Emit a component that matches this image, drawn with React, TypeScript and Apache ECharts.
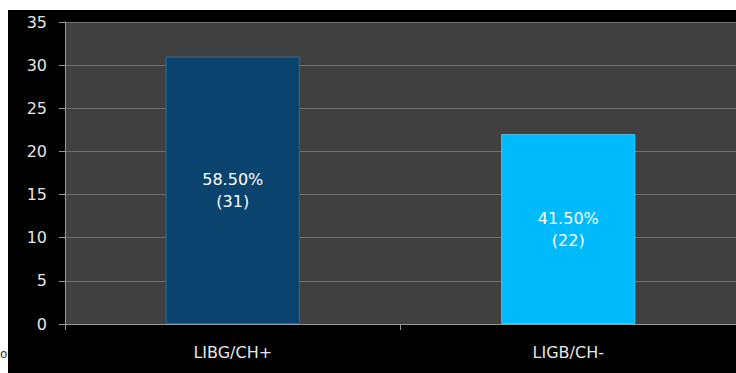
import React, { useEffect, useRef } from "react";
import * as echarts from "echarts";

const categories = ["LIBG/CH+", "LIGB/CH-"];
const counts = [31, 22];
const percents = ["58.50%", "41.50%"];
const barColors = ["#0a446e", "#00bbfc"];

const FONT = "DejaVu Sans";

export default function App() {
  const ref = useRef<HTMLDivElement>(null);
  useEffect(() => {
    const chart = echarts.init(ref.current!, null, { renderer: "svg" });
    chart.setOption({
      animation: false,
      backgroundColor: "#ffffff",
      graphic: [
        { type: "rect", z: -10, shape: { x: 8, y: 10, width: 740, height: 380 }, style: { fill: "#000000" } },
        { type: "text", x: 0, y: 348, style: { text: "o", fill: "#333", font: "12px 'DejaVu Sans'" } },
      ],
      grid: { left: 65, right: -5, top: 22, bottom: 49, backgroundColor: "#404040", show: true, borderWidth: 0 },
      xAxis: {
        type: "category",
        data: categories,
        axisLine: { lineStyle: { color: "#9a9a9a", width: 1 } },
        axisTick: { show: true, length: 6, lineStyle: { color: "#9a9a9a" } },
        axisLabel: { color: "#e6e6e6", fontSize: 16, fontFamily: FONT, margin: 20 },
      },
      yAxis: {
        type: "value",
        min: 0,
        max: 35,
        interval: 5,
        axisLine: { show: true, lineStyle: { color: "#9a9a9a" } },
        axisTick: { show: true, length: 6, lineStyle: { color: "#9a9a9a" } },
        splitLine: { lineStyle: { color: "#6e6e6e", width: 1 } },
        axisLabel: { color: "#e6e6e6", fontSize: 16, fontFamily: FONT, margin: 18 },
      },
      series: [
        {
          type: "bar",
          barWidth: "40%",
          data: counts.map((v, i) => ({
            value: v,
            itemStyle: {
              color: barColors[i],
              borderColor: i === 0 ? "#2a6a9a" : "#33ccff",
              borderWidth: 1,
            },
            label: {
              show: true,
              position: "inside",
              formatter: `${percents[i]}\n(${v})`,
              color: "#ffffff",
              fontSize: 16,
              fontFamily: FONT,
              lineHeight: 22,
            },
          })),
        },
      ],
    });
    return () => chart.dispose();
  }, []);
  return (
    <div
      ref={ref}
      style={{ position: "absolute", left: 0, top: 0, width: 736, height: 373 }}
    />
  );
}
